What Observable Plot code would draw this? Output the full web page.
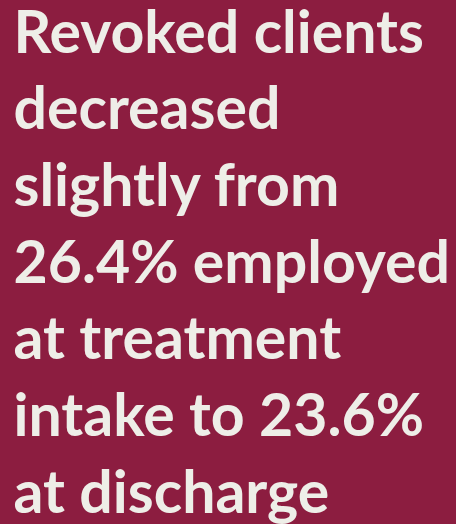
<!DOCTYPE html>
<html><head><meta charset="utf-8">
<script src="https://cdn.jsdelivr.net/npm/d3@7"></script>
<script src="https://cdn.jsdelivr.net/npm/@observablehq/plot@0.6"></script>
<style>
html,body{margin:0;padding:0;background:#8C1D40;}
</style>
</head><body>
<div id="chart"></div>
<script>
const lines = [
  "Revoked clients",
  "decreased",
  "slightly from",
  "26.4% employed",
  "at treatment",
  "intake to 23.6%",
  "at discharge"
];
const lineIndex = lines.map((_, i) => i);

const chart = Plot.plot({
  width: 456,
  height: 524,
  margin: 0,
  style: {background: "#8C1D40", overflow: "visible"},
  x: {axis: null},
  y: {axis: null, domain: [0, lines.length - 1], range: [52, 512]},
  marks: [
    Plot.text(lineIndex, {
      y: d => d,
      text: d => lines[d],
      frameAnchor: "left",
      textAnchor: "start",
      lineAnchor: "bottom",
      dx: 13,
      fill: "#EEEEE8",
      fontSize: 59,
      fontWeight: "bold",
      fontFamily: "Lato"
    })
  ]
});
document.getElementById("chart").appendChild(chart);
</script></body></html>
